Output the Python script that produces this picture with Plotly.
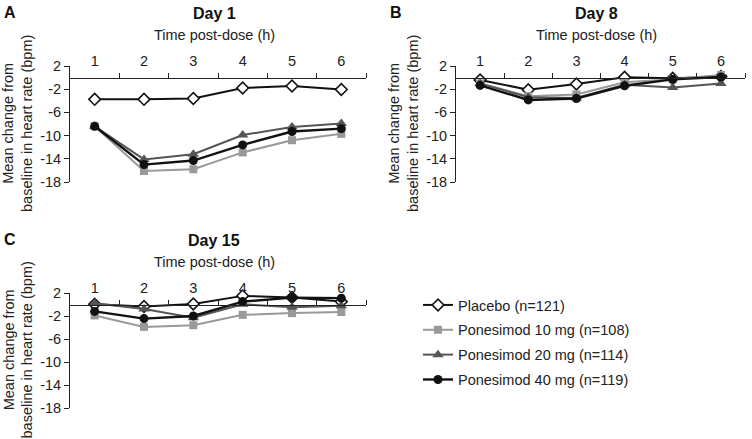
import plotly.graph_objects as go

W, H = 752, 439

hours = [1, 2, 3, 4, 5, 6]
hour_labels = ["1", "2", "3", "4", "5", "6"]
y_ticks = [2, -2, -6, -10, -14, -18]
y_tick_labels = ["2", "-2", "-6", "-10", "-14", "-18"]

series_names = ["Placebo (n=121)", "Ponesimod 10 mg (n=108)",
                "Ponesimod 20 mg (n=114)", "Ponesimod 40 mg (n=119)"]

# Day 1
day1_placebo = [-3.75, -3.75, -3.6, -1.8, -1.45, -2.05]
day1_10mg = [-8.4, -16.1, -15.8, -12.9, -10.8, -9.7]
day1_20mg = [-8.4, -14.1, -13.2, -9.9, -8.5, -7.9]
day1_40mg = [-8.4, -15.0, -14.3, -11.6, -9.3, -8.8]

# Day 8
day8_placebo = [-0.4, -2.1, -1.1, 0.05, -0.1, 0.2]
day8_10mg = [-1.0, -3.2, -2.9, -0.8, -0.3, 0.45]
day8_20mg = [-1.0, -3.4, -3.5, -1.25, -1.7, -1.0]
day8_40mg = [-1.35, -3.85, -3.6, -1.4, -0.3, 0.1]

# Day 15
day15_placebo = [0.05, -0.35, 0.1, 1.5, 1.2, 0.5]
day15_10mg = [-1.9, -3.9, -3.6, -1.8, -1.5, -1.3]
day15_20mg = [0.2, -0.8, -2.3, 0.05, -0.5, -0.2]
day15_40mg = [-1.2, -2.45, -2.0, 0.5, 1.2, 1.1]

panel_letters = ["A", "B", "C"]
panel_titles = ["Day 1", "Day 8", "Day 15"]
x_title = "Time post-dose (h)"
y_title = "Mean change from<br>baseline in heart rate (bpm)"

FONT = "Arial, 'Liberation Sans', sans-serif"

styles = [
    dict(line=dict(color="#111111", width=2),
         marker=dict(symbol="diamond", size=9, color="white",
                     line=dict(color="#111111", width=1.6))),
    dict(line=dict(color="#999999", width=2),
         marker=dict(symbol="square", size=8, color="#999999",
                     line=dict(color="#999999", width=0))),
    dict(line=dict(color="#555555", width=2),
         marker=dict(symbol="triangle-up", size=10, color="#555555",
                     line=dict(color="#555555", width=0))),
    dict(line=dict(color="#111111", width=2.4),
         marker=dict(symbol="circle", size=9, color="#111111",
                     line=dict(color="#111111", width=0))),
]

panels = [
    [day1_placebo, day1_10mg, day1_20mg, day1_40mg],
    [day8_placebo, day8_10mg, day8_20mg, day8_40mg],
    [day15_placebo, day15_10mg, day15_20mg, day15_40mg],
]

# pixel geometry of each panel: (x_left, x_right, y_top, y_bottom)
geom = [
    (70, 366, 66, 182),
    (456, 745, 66, 182),
    (70, 366, 293, 408),
]

def xp(px):
    return px / W

def yp(py):
    return 1 - py / H

fig = go.Figure()

for p, data in enumerate(panels):
    sfx = "" if p == 0 else str(p + 1)
    for s, vals in enumerate(data):
        fig.add_trace(go.Scatter(
            x=hours, y=vals, mode="lines+markers",
            name=series_names[s], legendgroup=series_names[s],
            showlegend=(p == 0),
            xaxis="x" + sfx, yaxis="y" + sfx,
            line=styles[s]["line"], marker=styles[s]["marker"],
            cliponaxis=False,
        ))

annotations = []
layout_axes = {}
for p in range(3):
    xl, xr, yt, yb = geom[p]
    sfx = "" if p == 0 else str(p + 1)
    ydom = [yp(yb), yp(yt)]
    zero_pos = ydom[0] + 0.9 * (ydom[1] - ydom[0])
    layout_axes["xaxis" + sfx] = dict(
        domain=[xp(xl), xp(xr)], range=[0.5, 6.5],
        anchor="free", position=zero_pos, side="top",
        tickmode="array", tickvals=hours, ticktext=hour_labels,
        ticks="outside", ticklen=6, tickcolor="rgba(0,0,0,0)",
        minor=dict(tickmode="array", tickvals=[1.5, 2.5, 3.5, 4.5, 5.5, 6.5],
                   ticks="outside", ticklen=5, tickcolor="#222222", tickwidth=1),
        showline=True, linecolor="#222222", linewidth=1,
        showgrid=False, zeroline=False, automargin=False,
        tickfont=dict(family=FONT, size=14.5, color="#222222"),
        fixedrange=True,
    )
    layout_axes["yaxis" + sfx] = dict(
        domain=ydom, range=[-18, 2], anchor="x" + sfx,
        tickmode="array", tickvals=y_ticks, ticktext=y_tick_labels,
        ticks="outside", ticklen=5, tickcolor="#222222",
        showline=True, linecolor="#222222", linewidth=1,
        showgrid=False, zeroline=False, automargin=False,
        tickfont=dict(family=FONT, size=14.5, color="#222222"),
        fixedrange=True,
    )
    zero_px = yb - 0.9 * (yb - yt)
    xc = (xl + xr) / 2 - 4
    annotations.append(dict(
        text="<b>%s</b>" % panel_letters[p], xref="paper", yref="paper",
        x=xp(xl - 60), y=yp(zero_px - 65),
        xanchor="center", yanchor="middle", showarrow=False,
        font=dict(family=FONT, size=16, color="#111111")))
    annotations.append(dict(
        text="<b>%s</b>" % panel_titles[p], xref="paper", yref="paper",
        x=xp(xc), y=yp(zero_px - 64),
        xanchor="center", yanchor="middle", showarrow=False,
        font=dict(family=FONT, size=16, color="#111111")))
    annotations.append(dict(
        text=x_title, xref="paper", yref="paper",
        x=xp(xc), y=yp(zero_px - 43),
        xanchor="center", yanchor="middle", showarrow=False,
        font=dict(family=FONT, size=14.5, color="#222222")))
    annotations.append(dict(
        text=y_title, xref="paper", yref="paper", textangle=-90,
        x=xp(xl - 52), y=yp((yt + yb) / 2),
        xanchor="center", yanchor="middle", showarrow=False,
        font=dict(family=FONT, size=14.5, color="#222222")))

fig.update_layout(
    width=W, height=H,
    margin=dict(l=0, r=0, t=0, b=0, autoexpand=False),
    paper_bgcolor="white", plot_bgcolor="white",
    showlegend=True,
    legend=dict(x=xp(418), y=yp(289), xanchor="left", yanchor="top",
                font=dict(family=FONT, size=14.5, color="#222222"),
                tracegroupgap=3, bgcolor="rgba(0,0,0,0)"),
    annotations=annotations,
    **layout_axes,
)

fig.write_html(
    "out.html",
    config={"displayModeBar": False},
    post_script="document.body.style.margin='0';document.body.style.overflow='hidden';",
)
